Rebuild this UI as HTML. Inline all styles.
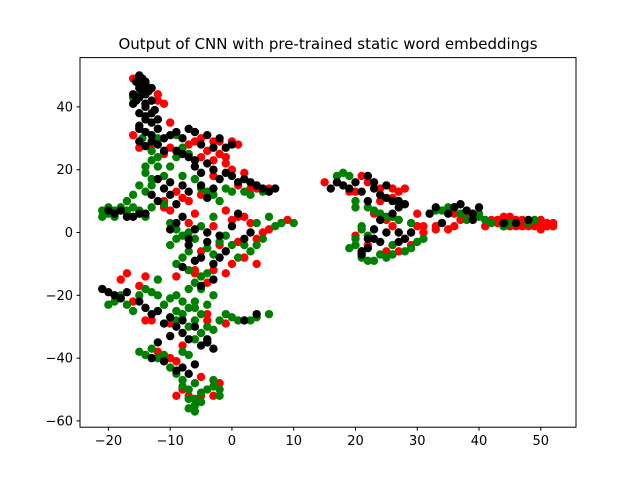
<!DOCTYPE html>
<html><head><meta charset="utf-8"><style>
body{margin:0;background:#fff;}
svg{display:block;font-family:"DejaVu Sans","Liberation Sans",sans-serif;}
</style></head><body>
<svg id="chart" width="640" height="480" xmlns="http://www.w3.org/2000/svg">
<rect width="640" height="480" fill="#fff"/>
<text x="328" y="49" text-anchor="middle" font-size="15">Output of CNN with pre-trained static word embeddings</text>
<g id="marks"></g>
<rect x="80" y="57.6" width="496" height="369.6" fill="none" stroke="#000" stroke-width="1"/>
<g id="axes"></g>
</svg>
<script>
const xTicks=[-20,-10,0,10,20,30,40,50];
const yTicks=[-60,-40,-20,0,20,40];
const redPts=[[-16,49],[-13.5,46],[-12,42],[-11,41],[-16,31],[-13,28],[-11,25],[-10,35],[-7,28],[-5,30],[-3,29],[0,29],[-2,25],[-4,26],[-3,23],[0,20],[-1,22],[2,19],[3,14],[6,14],[-8,11],[-5,12],[-11,10],[-10,7],[-7,3],[-3,2],[0,4],[2,5],[4,-2],[6,1],[9,4],[1,-3],[-2,-4],[-5,-6],[-9,-14],[-6,-12],[-4,-16],[-1,-13],[4,-10],[-17,-13],[-14,-14],[-16,-22],[-13,-28],[-4,-26],[-1,-29],[-10,-29],[-12,-38],[-9,-41],[-5,-46],[-8,-50],[-3,-52],[-6,-53],[-2,-48],[-9,-52],[15,16],[19,13],[21,18],[24,10],[26,14],[28,14],[30,6],[27,4],[26,2],[23,6],[20,-1],[22,-4],[25,-6],[29,-4],[30,2],[31,0],[33,2],[35,1],[37,4],[36,6],[41,2],[43,4],[44,5],[45,2],[46,4],[47,3],[48,2],[49,3],[50,4],[51,2],[52,3],[50,1],[45,4],
[-15,49],[-14,41],[-12,44],[-15,27],[-10,27],[-6,29],[-2,29],[1,28],[-1,24],[-5,24],[-3,18],[1,15],[4,14],[-9,13],[-7,10],[-11,8],[-6,6],[-1,7],[1,5],[3,3],[5,0],[8,3],[2,-8],[0,-10],[-6,-13],[-3,-12],[-18,-15],[-15,-17],[-14,-28],[-4,-28],[-8,-36],[-10,-40],[-7,-52],[-5,-52],[17,16],[20,13],[22,16],[24,14],[27,13],[26,11],[25,4],[24,6],[28,-2],[27,-6],[31,2],[33,1],[34,3],[36,2],[38,5],[42,4],[43,3],[44,3],[45,5],[46,2],[47,4],[48,3],[49,2],[50,2],[51,3],[52,2],[44,2],[47,2]];
const greenPts=[[-16,43],[-14.5,30],[-12,30],[-13,23],[-14,21],[-11,18],[-13,17],[-15,15],[-16,12],[-17,10],[-18,8],[-20,6],[-21,7],[-19,5],[-17,6],[-15,7],[-13,8],[-9,31],[-7,25],[-10,21],[-6,17],[-4,13],[-1,14],[2,13],[5,13],[-2,10],[-9,1],[-8,-1],[-10,-4],[-6,-2],[-5,2],[-2,-3],[0,-4],[1,-8],[3,-6],[5,-2],[4,3],[6,5],[8,3],[10,3],[-3,5],[-20,-23],[-18,-20],[-16,-25],[-14,-18],[-12,-20],[-11,-23],[-9,-20],[-7,-24],[-6,-22],[-5,-26],[-3,-20],[-2,-28],[0,-27],[3,-28],[6,-26],[-9,-28],[-7,-30],[-5,-32],[-3,-31],[-12,-15],[-8,-8],[-6,-16],[-4,-13],[-7,-18],[-15,-38],[-13,-37],[-11,-39],[-10,-43],[-8,-47],[-7,-50],[-6,-53],[-7,-56],[-6,-55],[-5,-51],[-3,-49],[-2,-50],[-4,-35],[-7,-39],[18,19],[17,18],[20,10],[22,8],[24,6],[26,5],[29,3],[21,1],[20,-2],[19,-5],[21,-8],[23,-9],[25,-8],[26,-4],[28,-6],[30,-3],[32,6],[34,7],[36,8],[38,4],[40,6],[40,5],[44,2],[46,3],[49,4],
[-15,44],[-13,26],[-12,24],[-12,21],[-14,19],[-13,15],[-14,13],[-16,8],[-20,8],[-21,5],[-19,7],[-17,7],[-14,5],[-11,9],[-8,27],[-9,24],[-8,18],[-5,14],[-3,12],[0,13],[3,12],[-10,3],[-9,-2],[-7,0],[-7,-6],[-4,-5],[-3,-7],[-1,-1],[2,-4],[4,-4],[7,2],[-19,-22],[-17,-23],[-15,-20],[-13,-19],[-10,-21],[-8,-22],[-9,-25],[-6,-24],[-4,-23],[-1,-26],[1,-28],[4,-27],[-8,-26],[-6,-28],[-4,-30],[-6,-34],[-9,-10],[-7,-12],[-5,-14],[-5,-18],[-14,-39],[-12,-40],[-9,-45],[-8,-49],[-7,-53],[-6,-57],[-5,-54],[-4,-50],[-2,-52],[-3,-47],[-6,-48],[-8,-38],[19,18],[20,8],[23,7],[25,5],[27,4],[21,2],[22,-1],[20,-4],[21,-6],[22,-9],[24,-7],[26,-7],[29,-5],[31,-2],[33,7],[35,8],[37,6],[39,5],[41,4],[45,3],[48,3],[42,3]];
const blackPts=[[-15,50],[-14.5,49],[-15.5,48],[-14,47],[-15,46],[-13.5,45],[-16,44],[-14,44],[-15,43],[-13,42],[-16,41],[-14,40],[-12.5,39],[-15,38],[-14,36],[-13,35],[-15,34],[-12,33],[-14,32],[-13,31],[-15,29],[-14,27.5],[-12,28],[-11,26],[-9,32],[-7,33],[-6,32],[-4,31],[-2,30],[0,28],[-9,26],[-7,24],[-6,23],[-4,22],[-3,20],[-1,19],[0,18],[2,17],[4,15],[7,14],[-12,17],[-10,16],[-8,15],[-5,15],[-3,14],[-13,12],[-12,10],[-9,9],[-20,7],[-19,6],[-16,5],[-14,6],[-9,3],[-6,1],[-4,0],[-2,-1],[0,2],[1,6],[3,0],[-7,-4],[-5,-8],[-3,-10],[-1,-6],[-21,-18],[-19,-20],[-17,-19],[-15,-22],[-14,-24],[-12,-25],[-10,-27],[-8,-28],[-6,-30],[-4,-34],[-3,-37],[-10,-33],[-8,-32],[-13,-40],[-11,-41],[-9,-44],[-7,-45],[-4,-35],[2,-28],[4,-26],[-5,-17],[-8,-11],[-3,-15],[16,14],[18,15],[20,16],[22,18],[23,14],[24,12],[25,15],[26,10],[28,9],[27,8],[24,4],[25,0],[23,-2],[22,-5],[21,-6],[27,-3],[29,0],[33,8],[35,6],[37,9],[38,7],[34,3],[39,4],[40,8],[46,3],[48,4],
[-14,48],[-15,47],[-13,46],[-14.5,45],[-15.5,42],[-14,41],[-13,38],[-14,37],[-12,36],[-15,33],[-13,29],[-11,30],[-10,31],[-8,30],[-5,28],[-3,27],[-1,27],[-8,25],[-6,21],[-5,19],[-2,17],[1,16],[3,16],[5,14],[6,13],[-11,14],[-7,13],[-4,11],[-10,12],[-18,7],[-17,5],[-15,6],[-8,5],[-10,1],[-7,-2],[-6,-9],[-2,-8],[-4,-3],[2,-2],[-20,-19],[-18,-21],[-13,-26],[-11,-29],[-9,-30],[-7,-34],[-5,-36],[-12,-35],[-6,-42],[-8,-43],[17,16],[19,14],[21,13],[22,10],[23,16],[25,11],[27,10],[26,6],[23,1],[22,-2],[24,-3],[27,0],[28,-2],[32,6],[36,8],[39,6],[44,3],[21,-7]];
const xMin=-24.6,xMax=55.7,yMin=-62.0,yMax=55.7;
const L=80,R=576,T=57.6,B=427.2;
function sx(v){return L+(v-xMin)/(xMax-xMin)*(R-L);}
function sy(v){return B-(v-yMin)/(yMax-yMin)*(B-T);}
const NS="http://www.w3.org/2000/svg";
const marks=document.getElementById('marks');
function draw(pts,color,name){
  const g=document.createElementNS(NS,'g');
  
  
  pts.forEach(p=>{
    const c=document.createElementNS(NS,'circle');
    c.setAttribute('cx',sx(p[0]));c.setAttribute('cy',sy(p[1]));
    c.setAttribute('r',4.2);c.setAttribute('fill',color);
    
    
    g.appendChild(c);
  });
  marks.appendChild(g);
}
draw(redPts,'#ff0000','red');
draw(greenPts,'#008000','green');
draw(blackPts,'#000000','black');
const axes=document.getElementById('axes');
xTicks.forEach(t=>{
  const x=sx(t);
  const l=document.createElementNS(NS,'line');
  l.setAttribute('x1',x);l.setAttribute('x2',x);l.setAttribute('y1',B);l.setAttribute('y2',B+3.5);l.setAttribute('stroke','#000');
  
  
  axes.appendChild(l);
  const tx=document.createElementNS(NS,'text');
  tx.setAttribute('x',x);tx.setAttribute('y',B+18);tx.setAttribute('text-anchor','middle');tx.setAttribute('font-size','13');
  tx.textContent=t<0?'\u2212'+Math.abs(t):String(t);
  
  
  axes.appendChild(tx);
});
yTicks.forEach(t=>{
  const y=sy(t);
  const l=document.createElementNS(NS,'line');
  l.setAttribute('x1',L-3.5);l.setAttribute('x2',L);l.setAttribute('y1',y);l.setAttribute('y2',y);l.setAttribute('stroke','#000');
  
  
  axes.appendChild(l);
  const tx=document.createElementNS(NS,'text');
  tx.setAttribute('x',L-7);tx.setAttribute('y',y+4.5);tx.setAttribute('text-anchor','end');tx.setAttribute('font-size','13');
  tx.textContent=t<0?'\u2212'+Math.abs(t):String(t);
  
  
  axes.appendChild(tx);
});
</script>
</body></html>
